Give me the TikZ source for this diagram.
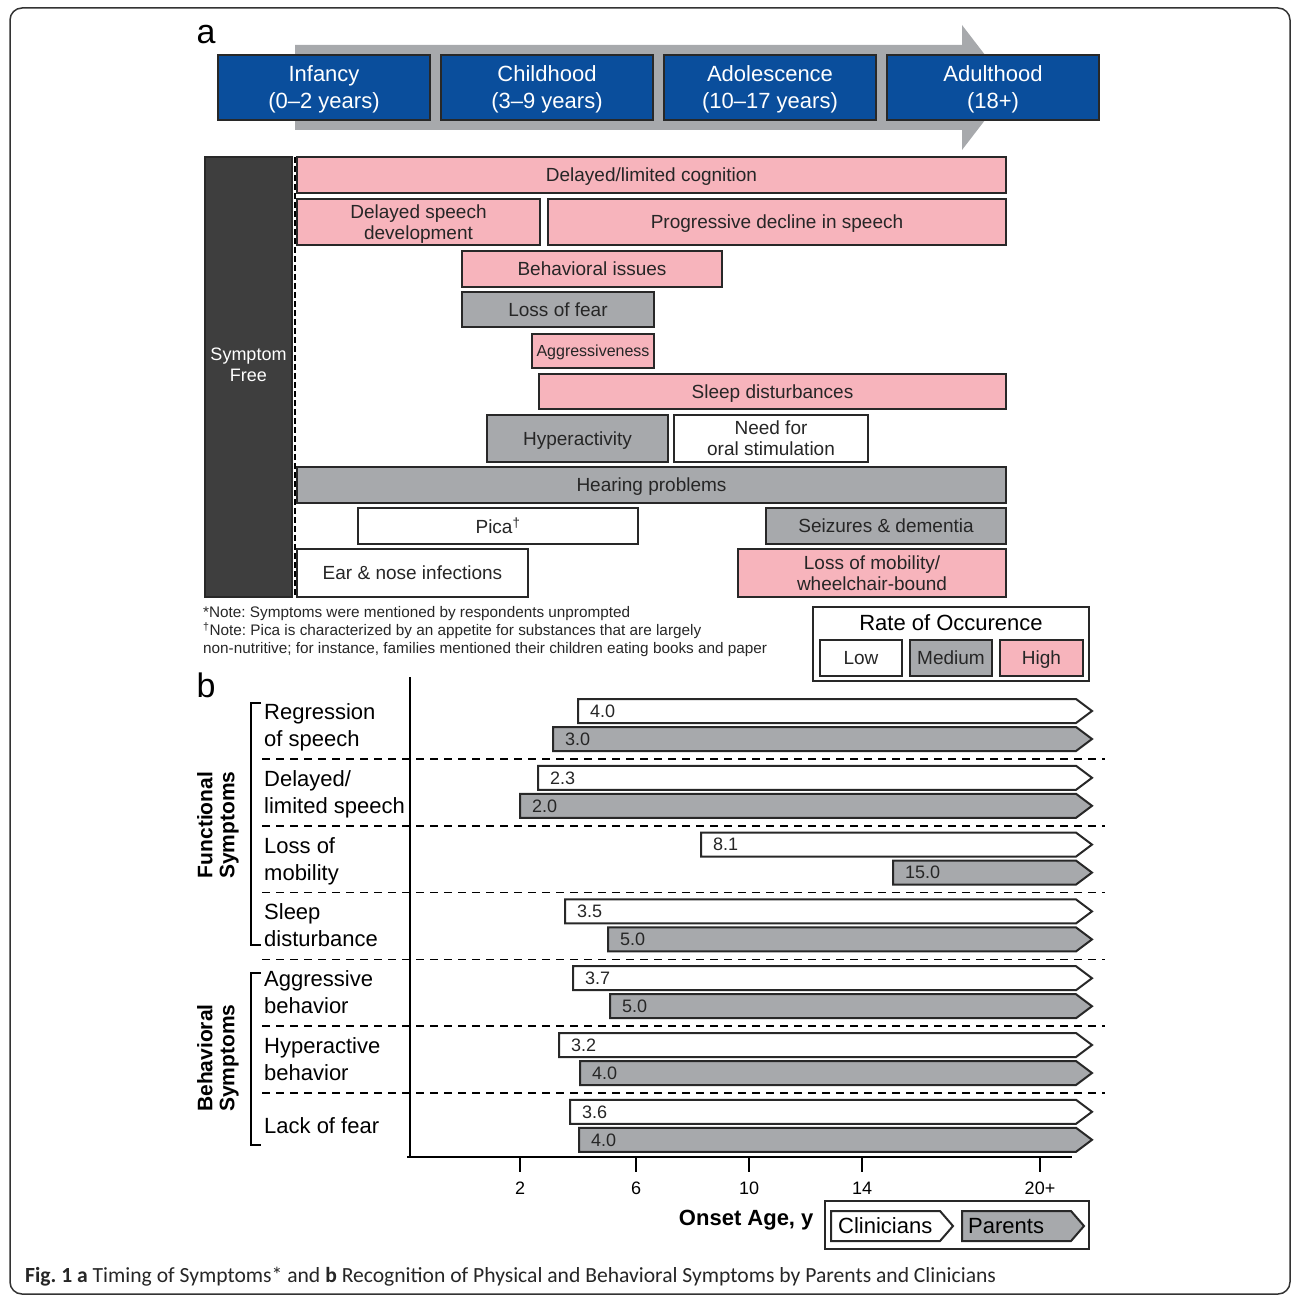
\documentclass[tikz,border=0pt]{standalone}
\usepackage{fontspec}
\setmainfont{Liberation Sans}
\newfontfamily\capfont{Carlito}
\definecolor{stageblue}{RGB}{10,78,156}
\definecolor{medgray}{RGB}{167,169,172}
\definecolor{highpink}{RGB}{247,180,188}
\definecolor{freegray}{RGB}{62,62,62}
\definecolor{edge}{RGB}{40,40,40}
\frenchspacing

\begin{document}
\begin{tikzpicture}[x=1pt, y=-1pt,
	stage/.style={draw=edge, line width=2, fill=stageblue, text=white, minimum width=212, minimum height=65, align=center, text depth=0pt, font=\fontsize{22}{27}\selectfont},
	bar/.style={draw=edge, line width=2, text=black!85, align=center, inner sep=0, text depth=0pt, font=\fontsize{19}{21}\selectfont},
	low/.style={bar, fill=white},
	medium/.style={bar, fill=medgray},
	high/.style={bar, fill=highpink},
	clinbar/.style={draw=edge, line width=2, fill=white},
	parbar/.style={draw=edge, line width=2, fill=medgray},
	val/.style={text=black!85, inner sep=0, font=\fontsize{18}{20}\selectfont},
	rowlab/.style={align=left, inner sep=0, text depth=0pt, font=\fontsize{22}{27}\selectfont},
	sep/.style={dashed, dash pattern=on 8pt off 6pt, line width=1.5},
	axis/.style={line width=2},
	brack/.style={line width=2.5}]
	\useasboundingbox (0,0) rectangle (1292,1297);
	\draw[black!80, line width=1.5, rounded corners=12] (10,8) rectangle (1290,1294);

	\node[font=\fontsize{34}{34}\selectfont] (a) at (206,35) {a};
	\fill[medgray] (295,45) -- (962,45) -- (962,25) -- (1010,87.5) -- (962,150) -- (962,130) -- (295,130) -- cycle;
	\node[stage] (inf) at (324,87.5) {Infancy\\(0--2 years)};
	\node[stage] (chi) at (547,87.5) {Childhood\\(3--9 years)};
	\node[stage] (ado) at (770,87.5) {Adolescence\\(10--17 years)};
	\node[stage] (adu) at (993,87.5) {Adulthood\\(18+)};

	\node[draw=edge, line width=2, fill=freegray, minimum width=87, minimum height=440] (free) at (248.5,377) {};
	\node[text=white, align=center, font=\fontsize{18}{21}\selectfont] (freet) at (248.5,365) {Symptom\\Free};
	\draw[dashed, dash pattern=on 6pt off 3pt, line width=1.5] (295,157) -- (295,597);

	\node[high, minimum width=709, minimum height=36] (cog) at (651.5,175) {Delayed/limited cognition};
	\node[high, minimum width=243, minimum height=46] (dsd) at (418.5,222) {Delayed speech\\development};
	\node[high, minimum width=458, minimum height=46] (pds) at (777,222) {Progressive decline in speech};
	\node[high, minimum width=260, minimum height=36] (beh) at (592,269) {Behavioral issues};
	\node[medium, minimum width=192, minimum height=35] (lof) at (558,309.5) {Loss of fear};
	\node[high, minimum width=122, minimum height=34, font=\fontsize{16}{18}\selectfont] (agg) at (593,351) {Aggressiveness};
	\node[high, minimum width=467, minimum height=35] (sle) at (772.5,391.5) {Sleep disturbances};
	\node[medium, minimum width=181, minimum height=47] (hyp) at (577.5,438.5) {Hyperactivity};
	\node[low, minimum width=194, minimum height=47] (ora) at (771,438.5) {Need for\\oral stimulation};
	\node[medium, minimum width=709, minimum height=36] (hea) at (651.5,485) {Hearing problems};
	\node[low, minimum width=280, minimum height=36] (pic) at (498,526) {Pica\textsuperscript{\dag}};
	\node[medium, minimum width=240, minimum height=36] (sei) at (886,526) {Seizures \& dementia};
	\node[low, minimum width=231, minimum height=48] (ear) at (412.5,573) {Ear \& nose infections};
	\node[high, minimum width=268, minimum height=48] (mob) at (872,573) {Loss of mobility/\\wheelchair-bound};

	\node[anchor=north west, align=left, inner sep=0, text=black!85, font=\fontsize{15.3}{18}\selectfont] (note) at (203,606) {*Note: Symptoms were mentioned by respondents unprompted\\\textsuperscript{\dag}Note: Pica is characterized by an appetite for substances that are largely\\non-nutritive; for instance, families mentioned their children eating books and paper};

	\node[draw=edge, line width=1.5, minimum width=276, minimum height=74] (rate) at (951,644) {};
	\node[font=\fontsize{22}{24}\selectfont] (ratet) at (951,623) {Rate of Occurence};
	\node[low, minimum width=82, minimum height=36] (klow) at (861,658) {Low};
	\node[medium, minimum width=82, minimum height=36] (kmed) at (951,658) {Medium};
	\node[high, minimum width=83, minimum height=36] (khig) at (1041.5,658) {High};

	\node[font=\fontsize{34}{34}\selectfont] (b) at (206,685) {b};
	\foreach \i/\lab/\cx/\cv/\px/\pv in {
		0/{Regression\\of speech}/578/4.0/553/3.0,
		1/{Delayed/\\limited speech}/538/2.3/520/2.0,
		2/{Loss of\\mobility}/701/8.1/893/15.0,
		3/{Sleep\\disturbance}/565/3.5/608/5.0,
		4/{Aggressive\\behavior}/573/3.7/610/5.0,
		5/{Hyperactive\\behavior}/559/3.2/580/4.0,
		6/{Lack of fear}/570/3.6/579/4.0}
	{
		\pgfmathsetmacro{\yc}{711+66.8*\i}
		\pgfmathsetmacro{\yp}{\yc+28}
		\node[rowlab, anchor=west] (lab\i) at (264,\yc+14) {\lab};
		\draw[clinbar] (\cx,\yc-12) -- (1076,\yc-12) -- (1092,\yc) -- (1076,\yc+12) -- (\cx,\yc+12) -- cycle;
		\draw[parbar] (\px,\yp-12) -- (1076,\yp-12) -- (1092,\yp) -- (1076,\yp+12) -- (\px,\yp+12) -- cycle;
		\node[val, anchor=west] (c\i) at (\cx+12,\yc) {\cv};
		\node[val, anchor=west] (p\i) at (\px+12,\yp) {\pv};
		\ifnum\i<6
			\draw[sep] (262,\yc+48) -- (1105,\yc+48);
		\fi
	}

	\draw[axis] (410,677) -- (410,1157);
	\draw[axis] (407,1157) -- (1072,1157);
	\foreach \t/\tx [count=\k] in {2/520,6/636,10/749,14/862,20+/1040} {
		\draw[axis] (\tx,1157) -- (\tx,1172);
		\node[font=\fontsize{18}{20}\selectfont] (tick\k) at (\tx,1188) {\t};
	}

	\draw[brack] (261,703) -- (251,703) -- (251,945) -- (261,945);
	\draw[brack] (261,973) -- (251,973) -- (251,1145) -- (261,1145);
	\node[rotate=90, align=center, font=\bfseries\fontsize{21}{22}\selectfont] (func) at (218,825) {Functional\\Symptoms};
	\node[rotate=90, align=center, font=\bfseries\fontsize{21}{22}\selectfont] (behv) at (218,1058) {Behavioral\\Symptoms};

	\node[anchor=east, font=\bfseries\fontsize{22}{24}\selectfont] (onset) at (817,1220) {Onset Age, y};
	\node[draw=edge, line width=1.5, minimum width=264, minimum height=48] (key) at (957,1225) {};
	\draw[clinbar] (831,1211) -- (940,1211) -- (953,1226) -- (940,1241) -- (831,1241) -- cycle;
	\draw[parbar] (962,1211) -- (1071,1211) -- (1084,1226) -- (1071,1241) -- (962,1241) -- cycle;
	\node[anchor=west, inner sep=0, font=\fontsize{22}{24}\selectfont] (kcl) at (838,1226) {Clinicians};
	\node[anchor=west, inner sep=0, font=\fontsize{22}{24}\selectfont] (kpa) at (968,1226) {Parents};

	\node[anchor=west, inner sep=0, text=black!85, font=\capfont\fontsize{21.6}{24}\selectfont] (cap) at (25,1277) {\textbf{Fig.\ 1 a} Timing of Symptoms* and \textbf{b} Recognition of Physical and Behavioral Symptoms by Parents and Clinicians};
\end{tikzpicture}
\end{document}
